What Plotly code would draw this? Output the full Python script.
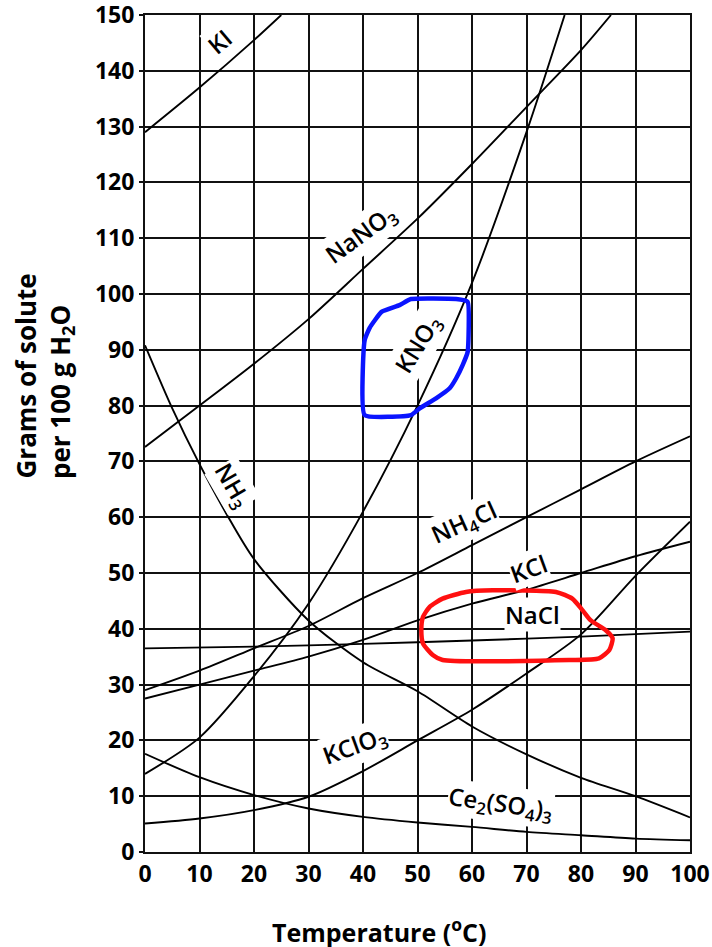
import plotly.graph_objects as go

# Solubility curves: grams of solute per 100 g of water vs. temperature (°C)
ki_t = [0, 10, 20, 25]
ki_g = [129, 137, 145.5, 150]

nano3_t = [0, 10, 20, 30, 40, 50, 60, 70, 80, 85.5]
nano3_g = [72.6, 80, 87.5, 95.5, 104.5, 113.5, 123.3, 133.5, 143.7, 150]

kno3_t = [0, 10, 20, 30, 40, 50, 60, 70, 77]
kno3_g = [14, 20.5, 31.5, 44.5, 61, 80, 102, 129, 150]

nh3_t = [0, 5, 10, 15, 20, 30, 40, 50, 60, 70, 80, 90, 100]
nh3_g = [90.8, 79.5, 69.5, 60.5, 52.5, 41.5, 34, 28.8, 22.5, 17.5, 13.3, 10, 6.2]

nh4cl_t = [0, 10, 20, 30, 40, 50, 60, 70, 80, 90, 100]
nh4cl_g = [29, 32.5, 36.5, 40.5, 45.5, 50, 55, 60, 65, 70, 74.5]

kcl_t = [0, 10, 20, 30, 40, 50, 60, 70, 80, 90, 100]
kcl_g = [27.5, 30, 32.5, 35, 38, 41.5, 44.5, 47, 50, 53, 55.6]

nacl_t = [0, 20, 40, 60, 80, 100]
nacl_g = [36.5, 36.8, 37.3, 37.9, 38.6, 39.5]

kclo3_t = [0, 10, 20, 30, 40, 50, 60, 70, 80, 90, 100]
kclo3_g = [5.1, 6, 7.5, 9.9, 14.5, 20, 25.5, 32, 39, 49.5, 59.2]

ce2so43_t = [0, 10, 20, 30, 40, 50, 60, 70, 80, 90, 100]
ce2so43_g = [17.6, 13.4, 10.2, 7.8, 6.3, 5.3, 4.5, 3.6, 3.0, 2.4, 2.1]

# Hand-drawn outlines around the KNO3 and NaCl labels
kno3_loop_t = [40.3, 40.3, 41.2, 43.4, 46.7, 48.8, 57.1, 59.2, 59.2, 58.3,
               57.1, 55.9, 53.4, 50.4, 48.8, 40.3]
kno3_loop_g = [78.3, 91.7, 93.9, 96.8, 98.0, 99.1, 99.1, 98.6, 89.6, 87.3,
               84.9, 83.1, 81.3, 79.5, 78.3, 78.3]

nacl_loop_t = [51.0, 52.2, 54.6, 58.9, 63.8, 75.4, 78.4, 80.3, 81.8, 84.6,
               85.8, 85.2, 83.3, 77.8, 54.6, 52.8, 51.0, 50.7, 51.0]
nacl_loop_g = [42.1, 43.9, 45.4, 46.6, 46.9, 46.6, 45.4, 43.3, 41.5, 39.7,
               38.3, 36.2, 34.7, 34.4, 34.4, 35.3, 37.4, 39.8, 42.1]

x_ticks = list(range(0, 101, 10))
y_ticks = list(range(0, 151, 10))

curves = [
    (ki_t, ki_g), (nano3_t, nano3_g), (kno3_t, kno3_g), (nh3_t, nh3_g),
    (nh4cl_t, nh4cl_g), (kcl_t, kcl_g), (nacl_t, nacl_g),
    (kclo3_t, kclo3_g), (ce2so43_t, ce2so43_g),
]

FONT = "Open Sans"

fig = go.Figure()

for t, g in curves:
    fig.add_trace(go.Scatter(
        x=t, y=g, mode="lines",
        line=dict(color="black", width=1.9, shape="spline", smoothing=0.8),
        hoverinfo="skip", showlegend=False,
    ))

fig.add_trace(go.Scatter(
    x=kno3_loop_t, y=kno3_loop_g, mode="lines",
    line=dict(color="#0a14ff", width=4.5, shape="spline", smoothing=0.4),
    hoverinfo="skip", showlegend=False,
))
fig.add_trace(go.Scatter(
    x=nacl_loop_t, y=nacl_loop_g, mode="lines",
    line=dict(color="#ff1010", width=4.5, shape="spline", smoothing=0.6),
    hoverinfo="skip", showlegend=False,
))

# Curve labels: (text, temperature, grams, angle)
label_specs = [
    ("KI", 13.6, 145.3, -40),
    ("NaNO<sub>3</sub>", 39.6, 110.6, -36),
    ("KNO<sub>3</sub>", 50.2, 91.0, -58),
    ("NH<sub>3</sub>", 15.9, 65.7, 60),
    ("NH<sub>4</sub>Cl", 58.6, 59.0, -24),
    ("KCl", 70.3, 50.8, -20),
    ("NaCl", 71.1, 42.5, 0),
    ("KClO<sub>3</sub>", 38.6, 19.0, -20),
    ("Ce<sub>2</sub>(SO<sub>4</sub>)<sub>3</sub>", 65.2, 8.6, 8),
]
annotations = []
for text, t, g, ang in label_specs:
    annotations.append(dict(
        x=t, y=g, xref="x", yref="y", text=text, showarrow=False,
        textangle=ang, bgcolor="white", borderpad=0,
        font=dict(family=FONT, size=24, color="black", weight=600),
    ))

W, H = 712, 947
ML, MR, MT, MB = 145, 22, 15, 95
pw, ph = W - ML - MR, H - MT - MB


def px_to_paper(px, py):
    return (px - ML) / pw, (H - MB - py) / ph


# Axis titles, placed in page pixels
tx, ty = px_to_paper(379, 930)
annotations.append(dict(
    x=tx, y=ty, xref="paper", yref="paper", xanchor="center", yanchor="middle",
    text="Temperature (<sup>o</sup>C)", showarrow=False,
    font=dict(family=FONT, size=25, color="black", weight=700),
))
for text, cx in (("Grams of solute", 25), ("per 100 g H<sub>2</sub>O", 61)):
    ax_, ay_ = px_to_paper(cx, 481)
    annotations.append(dict(
        x=ax_, y=ay_, xref="paper", yref="paper", xanchor="center", yanchor="bottom",
        text=text, showarrow=False, textangle=-90,
        font=dict(family=FONT, size=26, color="black", weight=700),
    ))

axis_common = dict(
    showgrid=True, gridcolor="#111111", gridwidth=2,
    showline=True, linecolor="#111111", linewidth=2, mirror=True,
    zeroline=False, automargin=False, ticklabeloverflow="allow",
    tickfont=dict(family=FONT, size=23, color="black", weight=700),
)

fig.update_layout(
    width=W, height=H,
    margin=dict(l=ML, r=MR, t=MT, b=MB, autoexpand=False),
    paper_bgcolor="white", plot_bgcolor="white",
    xaxis=dict(range=[0, 100], tickvals=x_ticks, ticks="", **axis_common),
    yaxis=dict(range=[0, 150], tickvals=y_ticks, ticks="outside", ticklen=4,
               tickcolor="#111111", tickwidth=1.5, **axis_common),
    annotations=annotations,
)

fig.write_html("out.html")
